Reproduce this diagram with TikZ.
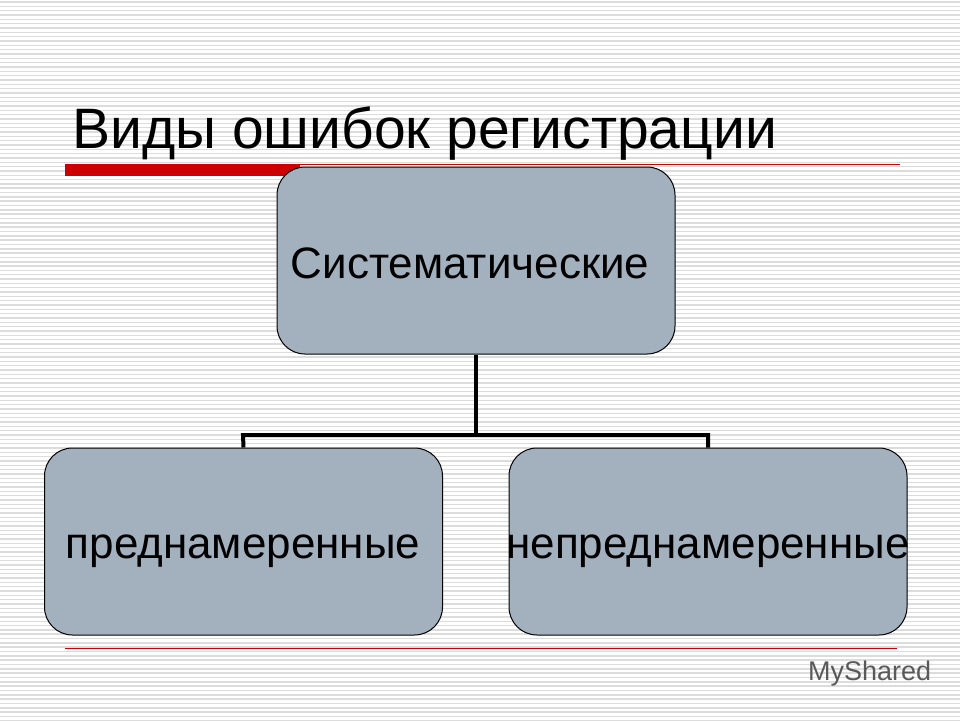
\documentclass[tikz,border=0pt]{standalone}
\usepackage{fontspec}
\setmainfont{Liberation Sans}
\begin{document}
\begin{tikzpicture}[x=1pt,y=-1pt,
  box/.style={draw=black,line width=1pt,fill=boxc,rounded corners=28pt,minimum width=398pt,minimum height=187pt,inner sep=0pt},
  lbl/.style={font=\fontsize{44}{48}\selectfont,inner sep=0pt},
  conn/.style={line width=4pt}]
\definecolor{boxc}{HTML}{A3B1BF}
\definecolor{stripe}{HTML}{DCDCDC}
\definecolor{redc}{HTML}{CC0000}
\useasboundingbox (0,0) rectangle (960,720);
\fill[white] (0,0) rectangle (960,720);
\foreach \i in {0,...,166} {\draw[stripe,line width=1.4pt] (0,2+\i*4.33) -- (960,2+\i*4.33);}
\fill[redc] (65,165) rectangle (300,176);
\draw[redc,line width=0.6pt] (65,164.5) -- (900,164.5);
\draw[redc,line width=0.6pt] (65,648) -- (897,648);
\node[anchor=base west,font=\fontsize{57}{62}\selectfont,inner sep=0pt] (title) at (72,148) {Виды ошибок регистрации};
\node[box] (top) at (476,260.5) {};
\node[box] (left) at (243.5,541.5) {};
\node[box] (right) at (708,541.5) {};
\node[lbl,anchor=base] (tl) at (470,278) {Систематические};
\node[lbl,anchor=base] (ll) at (243,558) {преднамеренные};
\node[lbl,anchor=base] (rl) at (708,558) {непреднамеренные};
\coordinate (mid) at (476,435);
\draw[conn] (top.south) -- (mid);
\draw[conn] (left.north) -- (243,435) -- (708,435) -- (right.north);
\node[anchor=west,text=black!65,font=\fontsize{27}{30}\selectfont,inner sep=0pt] (wm) at (808,674) {MyShared};
\end{tikzpicture}
\end{document}
